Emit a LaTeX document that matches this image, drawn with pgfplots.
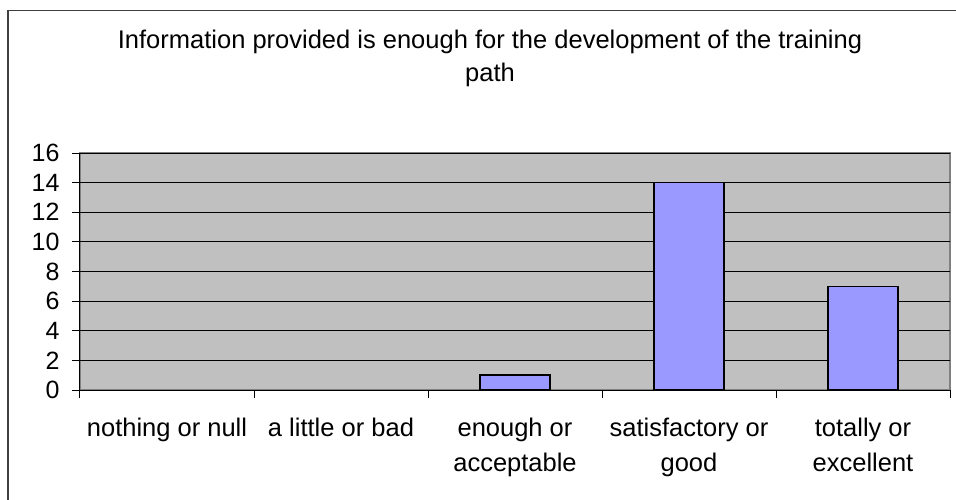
\documentclass[border=0pt]{standalone}
\usepackage{fontspec}
\setmainfont{Liberation Sans}
\usepackage{pgfplots}
\pgfplotsset{compat=1.18}
\definecolor{bg}{HTML}{C0C0C0}
\definecolor{barc}{HTML}{9999FF}
\definecolor{frame}{HTML}{404040}
\definecolor{pborder}{HTML}{808080}
\begin{document}
\begin{tikzpicture}[x=1pt,y=1pt]
\useasboundingbox (0,0) rectangle (956,499);
\draw[line width=1.5pt, frame] (8,-5) -- (8,488.5) -- (961,488.5);
\node[anchor=base, align=center, inner sep=0pt, font=\fontsize{25.5}{33}\selectfont] at (490,417) {Information provided is enough for the development of the training\\path};
\begin{axis}[at={(80pt,109pt)}, anchor=south west, scale only axis,
  width=870pt, height=237pt,
  ybar, bar width=70pt,
  xmin=-0.5, xmax=4.5, ymin=0, ymax=16,
  ytick={0,2,...,16},
  xtick={-0.5,0.5,...,4.5},
  xticklabels={},
  extra x ticks={0,1,2,3,4},
  extra x tick labels={{nothing or null}, {a little or bad}, {enough or\\acceptable}, {satisfactory or\\good}, {totally or\\excellent}},
  extra x tick style={major tick length=0pt, xticklabel style={align=center, anchor=north, yshift=-24pt, font=\fontsize{25.5}{35}\selectfont}},
  major tick length=8pt,
  tick align=outside,
  axis x line*=bottom, axis y line*=left,
  axis line style={black, line width=1pt, -},
  tick style={black, line width=1pt},
  ymajorgrids=true,
  major grid style={black, line width=1pt},
  axis background/.style={fill=bg, draw=pborder, line width=1.5pt},
  /pgf/number format/assume math mode=true,
  yticklabel style={font=\fontsize{25}{28}\selectfont, xshift=-9pt},
  restrict y to domain=0.5:20,
]
\addplot[fill=barc, draw=black, line width=1.5pt] coordinates {(0,0) (1,0) (2,1) (3,14) (4,7)};
\end{axis}
\end{tikzpicture}
\end{document}
